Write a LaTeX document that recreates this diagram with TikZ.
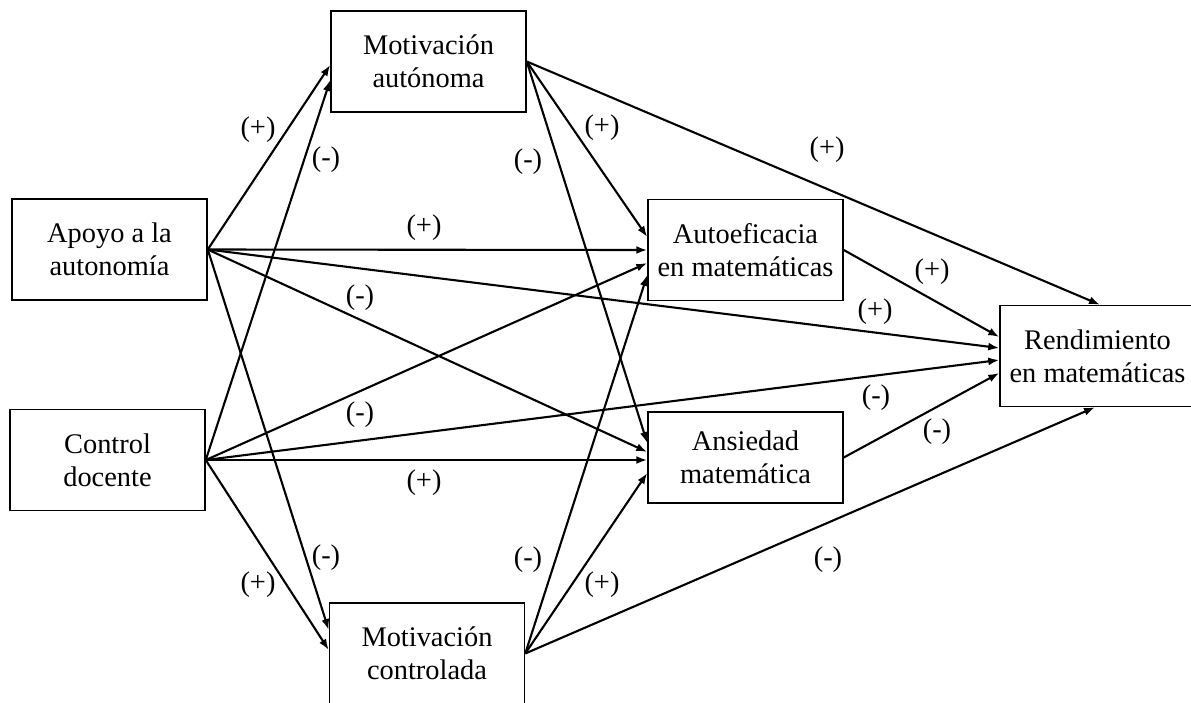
\documentclass[tikz,border=0pt]{standalone}
\usepackage{fontspec}
\setmainfont{Liberation Serif}
\usetikzlibrary{arrows.meta}

\begin{document}
\begin{tikzpicture}[x=1pt,y=-1pt,
    box/.style={draw,line width=1.5pt,minimum width=195pt,minimum height=101pt,
                inner sep=0pt,align=center,font=\fontsize{28.4}{33}\selectfont},
    lbl/.style={inner sep=0pt,font=\fontsize{28.4}{33}\selectfont},
    arr/.style={-{Latex[length=11pt,width=8pt]},line width=2.1pt}]
    \useasboundingbox (0,0) rectangle (1191,702);
    % variables
    \node[box] (apoyo) at (109.5,249.5) {Apoyo a la\\autonomía};
    \node[box] (control) at (107.5,460) {Control\\docente};
    \node[box] (motaut) at (428.5,61.5) {Motivación\\autónoma};
    \node[box] (motcon) at (427,653.5) {Motivación\\controlada};
    \node[box] (autoef) at (745.5,250) {Autoeficacia\\en matemáticas};
    \node[box,minimum height=91pt] (ansied) at (745.5,457.5) {Ansiedad\\matemática};
    \node[box] (rend) at (1097.5,356) {Rendimiento\\en matemáticas};
    % paths from apoyo a la autonomia
    \draw[arr] (apoyo.east)--([yshift=-3.5pt]motaut.west); \draw[arr] (apoyo.east)--(autoef.west);
    \draw[arr] (apoyo.east)--([yshift=8pt]rend.west); \draw[arr] (apoyo.east)--([yshift=5.5pt]ansied.west);
    \draw[arr] (apoyo.east)--([yshift=23.5pt]motcon.west);
    % paths from control docente
    \draw[arr] (control.east)--([yshift=-18.5pt]motaut.west); \draw[arr] (control.east)--([yshift=-13pt]autoef.west);
    \draw[arr] (control.east)--([yshift=-4pt]rend.west); \draw[arr] (control.east)--([yshift=-2.5pt]ansied.west);
    \draw[arr] (control.east)--([yshift=3.5pt]motcon.west);
    % paths from the motivations
    \draw[arr] (motaut.east)--([yshift=13pt]autoef.west); \draw[arr] (motaut.east)--([yshift=14.5pt]ansied.west);
    \draw[arr] (motaut.east)--([xshift=2.5pt]rend.north);
    \draw[arr] (motcon.east)--([yshift=-25pt]autoef.west); \draw[arr] (motcon.east)--([yshift=-15.5pt]ansied.west);
    \draw[arr] (motcon.east)--([xshift=-2.5pt]rend.south);
    % paths to rendimiento
    \draw[arr] (autoef.east)--([yshift=19pt]rend.west); \draw[arr] (ansied.east)--([yshift=-17pt]rend.west);
    % signs
    \node[lbl] (s1) at (258,130) {(+)};  \node[lbl] (s2) at (326,160) {(-)};
    \node[lbl] (s3) at (528,162) {(-)};  \node[lbl] (s4) at (602,128) {(+)};
    \node[lbl] (s5) at (827,150) {(+)};  \node[lbl] (s6) at (424,228) {(+)};
    \node[lbl] (s7) at (360,298) {(-)};  \node[lbl] (s8) at (875,312) {(+)};
    \node[lbl] (s9) at (932,272) {(+)};  \node[lbl] (s10) at (360,415) {(-)};
    \node[lbl] (s11) at (876,398) {(-)}; \node[lbl] (s12) at (937,432) {(-)};
    \node[lbl] (s13) at (424,483) {(+)}; \node[lbl] (s14) at (326,558) {(-)};
    \node[lbl] (s15) at (258,585) {(+)}; \node[lbl] (s16) at (528,560) {(-)};
    \node[lbl] (s17) at (602,585) {(+)}; \node[lbl] (s18) at (828,560) {(-)};
\end{tikzpicture}
\end{document}
